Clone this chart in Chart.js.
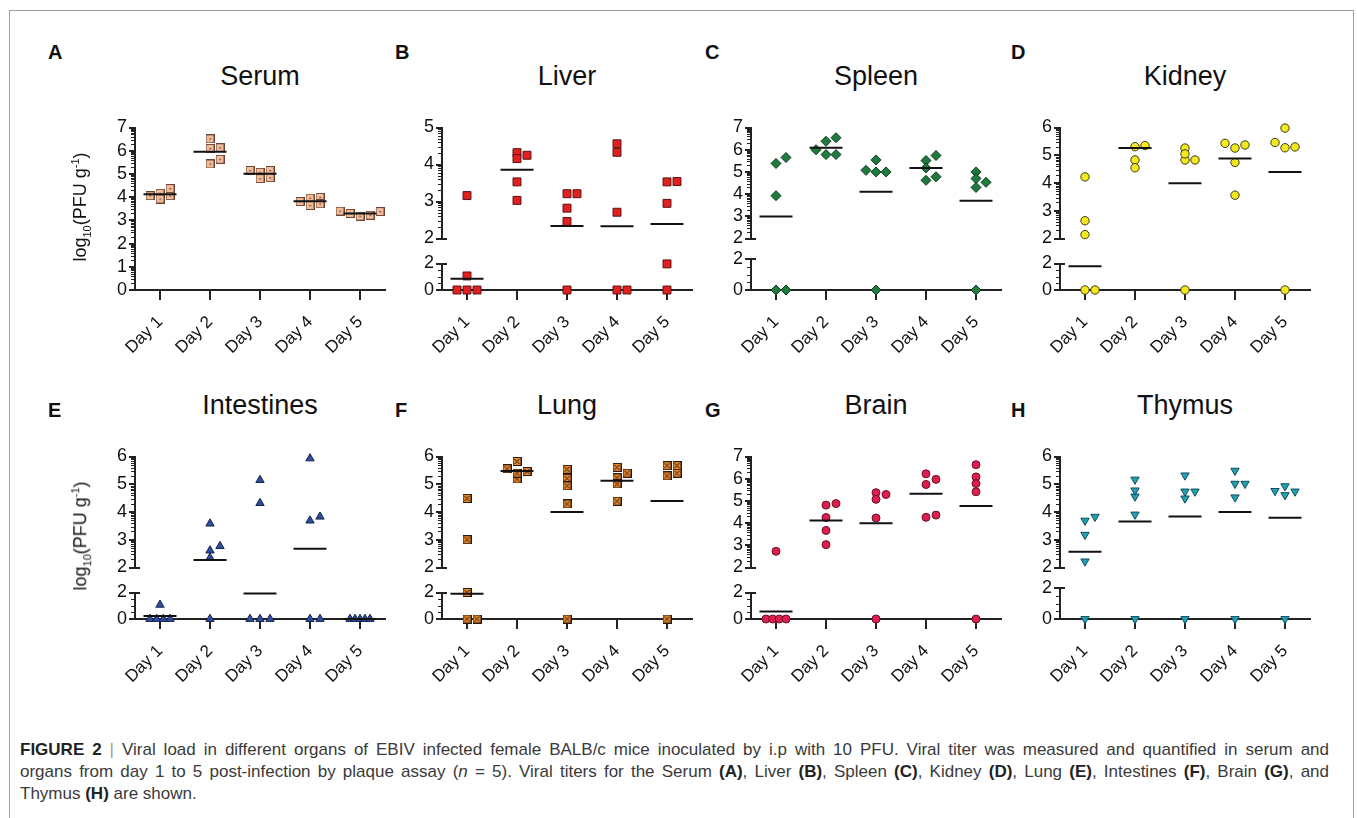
<!DOCTYPE html>
<html><head><meta charset="utf-8">
<script src="https://cdn.jsdelivr.net/npm/chart.js@4.4.0/dist/chart.umd.min.js"></script>
<style>
html,body{margin:0;padding:0;background:#fff;}
body{width:1357px;height:818px;position:relative;overflow:hidden;font-family:"Liberation Sans",Arial,Helvetica,sans-serif;}
.frame{position:absolute;left:9px;top:10px;width:1343px;height:830px;border:1px solid #a0a0a0;border-bottom:none;}
canvas{position:absolute;}
.title{position:absolute;font-size:27px;color:#111;transform:translate(-50%,-50%);white-space:nowrap;}
.letter{position:absolute;font-size:20px;font-weight:bold;color:#111;transform:translateY(-50%);}
.ylab{position:absolute;font-size:18px;color:#111;white-space:nowrap;transform:translate(-50%,-50%) rotate(-90deg);}
.ylab sub,.ylab sup{font-size:11px;}
.cap{position:absolute;left:20px;width:1309px;font-size:17px;color:#3a3a3a;white-space:nowrap;line-height:22px;}
.cap.j{text-align:justify;text-align-last:justify;}
.cap b{color:#222;}
.bar{color:#999;}
</style></head>
<body>
<div class="frame"></div>
<script>
// ---------------- data ----------------
const days = ['Day 1','Day 2','Day 3','Day 4','Day 5'];

const serum = [[4.06,4.37,4.17,4.06,3.92],[6.13,6.10,6.51,5.43,5.63],[5.07,5.15,5.15,4.80,4.84],[3.81,3.99,3.96,3.64,3.71],[3.40,3.38,3.18,3.22,3.30]];
const serumMean = [4.12,5.96,5.01,3.82,3.30];

const liver = [[0,0,0,1.06,3.16],[4.32,4.16,4.25,3.53,3.03],[3.21,3.21,2.82,2.46,0],[4.33,4.56,2.71,0,0],[3.54,3.53,2.95,1.97,0]];
const liverMean = [0.84,3.86,2.34,2.33,2.39];

const spleen = [[0,0,3.93,5.38,5.65],[6.54,6.38,6.00,5.78,5.78],[5.54,5.00,5.00,5.07,0],[5.51,5.74,5.18,4.62,4.78],[5.00,4.53,4.70,4.30,0]];
const spleenMean = [2.99,6.09,4.11,5.18,3.70];

const kidney = [[0,0,2.14,2.64,4.22],[5.35,5.31,4.83,4.55],[4.83,4.83,5.26,5.05,0],[5.43,5.26,5.37,4.74,3.56],[5.98,5.30,5.27,5.46,0]];
const kidneyMean = [1.80,5.26,3.99,4.88,4.40];

const intestines = [[0,0,0,0,1.07],[2.61,2.77,2.35,3.58,0],[5.15,4.32,0,0,0],[5.93,3.83,3.69,0,0],[0,0,0,0,0]];
const intestinesMean = [0.22,2.27,1.92,2.68,0];

const lung = [[4.49,3.00,2.00,0,0],[5.82,5.46,5.56,5.19,5.40],[5.54,5.21,4.94,4.29,0],[5.23,5.40,5.61,5.01,4.39],[5.40,5.67,5.30,5.67,0]];
const lungMean = [1.91,5.48,4.00,5.13,4.40];

const brain = [[2.73,0,0,0,0],[4.88,4.81,4.25,3.67,3.03],[5.37,5.29,5.07,4.23,0],[5.97,6.22,5.74,4.26,4.36],[6.63,6.08,5.78,5.41,0]];
const brainMean = [0.56,4.12,3.99,5.32,4.77];

const thymus = [[3.83,3.69,3.18,2.22,0],[5.17,4.56,4.78,3.91,0],[5.32,4.74,4.74,4.49,0],[5.49,5.02,5.02,4.53,0],[4.93,4.74,4.61,4.76,0]];
const thymusMean = [2.57,3.66,3.84,4.00,3.79];

const yTitle = 'log<sub>10</sub>(PFU g<sup>-1</sup>)';

// ---------------- layout / style ----------------
const FONT = '"Liberation Sans", Arial, Helvetica, sans-serif';
const colLeft = [135, 442, 751, 1060];
const rowTop = [123, 452];
const AREA_W = 250, UPPER = 124, GAP = 12, LOWER = 31, FULL = UPPER + GAP + LOWER;
const STEP = 0.2; // jitter step in day units (10 px)

function mkImg(draw){ const c=document.createElement('canvas'); c.width=9; c.height=9; draw(c.getContext('2d')); return c; }
const serumMark = mkImg(g=>{ g.fillStyle='#f2bc9b'; g.fillRect(0,0,9,9); g.strokeStyle='#6b4636'; g.lineWidth=1; g.strokeRect(0.5,0.5,8,8); g.fillStyle='#3a2418'; g.fillRect(4,4,1.3,1.3); });
const lungMark = mkImg(g=>{ g.fillStyle='#e8862a'; g.fillRect(0,0,9,9); g.strokeStyle='#2a1a10'; g.lineWidth=1; g.strokeRect(0.5,0.5,8,8); g.beginPath(); g.moveTo(2,2); g.lineTo(7,7); g.moveTo(7,2); g.lineTo(2,7); g.stroke(); });

const panels = [
  {letter:'A', title:'Serum', data:serum, mean:serumMean, yMax:7, broken:false, row:0, col:0, ylab:true,
   style:{pointStyle:serumMark, radius:4.5, size:7.5}},
  {letter:'B', title:'Liver', data:liver, mean:liverMean, yMax:5, broken:true, row:0, col:1,
   style:{pointStyle:'rect', radius:5.6, bg:'#e2201f', bd:'#5a1010', size:8}},
  {letter:'C', title:'Spleen', data:spleen, mean:spleenMean, yMax:7, broken:true, row:0, col:2,
   style:{pointStyle:'rectRot', radius:5, bg:'#1e7a3e', bd:'#0c3a1c', size:9}},
  {letter:'D', title:'Kidney', data:kidney, mean:kidneyMean, yMax:6, broken:true, row:0, col:3,
   style:{pointStyle:'circle', radius:4.2, bg:'#f5e81c', bd:'#3a3a20', size:8}},
  {letter:'E', title:'Intestines', data:intestines, mean:intestinesMean, yMax:6, broken:true, row:1, col:0, ylab:true,
   style:{pointStyle:'triangle', radius:4.8, bg:'#2e4fa0', bd:'#16244d', size:8}},
  {letter:'F', title:'Lung', data:lung, mean:lungMean, yMax:6, broken:true, row:1, col:1,
   style:{pointStyle:lungMark, radius:4.5, size:8}},
  {letter:'G', title:'Brain', data:brain, mean:brainMean, yMax:7, broken:true, row:1, col:2,
   style:{pointStyle:'circle', radius:4, bg:'#dc1f4e', bd:'#6a0f25', size:8}},
  {letter:'H', title:'Thymus', data:thymus, mean:thymusMean, yMax:6, broken:true, row:1, col:3,
   style:{pointStyle:'triangle', rotation:180, radius:4.8, bg:'#22a0b5', bd:'#0f4d58', size:8}},
];
const letterX = [48, 395, 705, 1011];
const letterY = [52, 410];
const titleY = [76, 405];

// pixel height above the x axis, used only for spreading overlapping dots
function pxOf(p, v){
  if (!p.broken) return v * FULL / p.yMax;
  if (v <= 2) return v * LOWER / 2;
  return LOWER + GAP + (v - 2) * UPPER / (p.yMax - 2);
}
function jitter(p, vals){
  const thr = p.style.size * 0.75;
  const slots = new Array(vals.length), placed = [];
  const counts = {};
  vals.forEach(v => counts[v] = (counts[v]||0) + 1);
  const seen = {};
  vals.forEach((v,i) => {
    if (counts[v] >= 4) {
      const k = seen[v] = (seen[v]===undefined ? 0 : seen[v]+1);
      slots[i] = -1 + 2*k/(counts[v]-1);
      placed.push({s:slots[i], py:pxOf(p,v)});
    }
  });
  const order = vals.map((v,i)=>i).filter(i=>slots[i]===undefined).sort((a,b)=>vals[a]-vals[b]);
  const cands = [0,1,-1,2,-2,3,-3];
  order.forEach(i => {
    const py = pxOf(p, vals[i]);
    for (const c of cands) {
      if (!placed.some(q => Math.abs(q.s - c) < 1 && Math.abs(q.py - py) < thr)) { slots[i] = c; placed.push({s:c, py}); break; }
    }
  });
  return slots;
}

const minorTicks = {
  id:'minorTicks',
  afterDraw(chart, args, opts){
    const y = chart.scales.y, ctx = chart.ctx, x0 = chart.chartArea.left;
    ctx.save(); ctx.strokeStyle = '#222';
    ctx.lineWidth = 1;
    (opts.values||[]).forEach(v => {
      const py = Math.round(y.getPixelForValue(v)) + 0.5;
      ctx.beginPath(); ctx.moveTo(x0-4, py); ctx.lineTo(x0, py); ctx.stroke();
    });
    ctx.lineWidth = 2;
    (opts.caps||[]).forEach(v => {
      const py = Math.round(y.getPixelForValue(v));
      ctx.beginPath(); ctx.moveTo(x0, py); ctx.lineTo(x0+5, py); ctx.stroke();
    });
    ctx.restore();
  }
};
Chart.register(minorTicks);

function segChart(p, seg){
  const left = colLeft[p.col], top0 = rowTop[p.row];
  let top, h, min, max, showX, yTicks, minors = [], caps = [];
  if (seg === 'full') { top = top0; h = FULL; min = 0; max = p.yMax; showX = true; }
  else if (seg === 'upper') { top = top0; h = UPPER; min = 2; max = p.yMax; showX = false; caps = [2]; }
  else { top = top0 + UPPER + GAP; h = LOWER; min = 0; max = 2; showX = true; caps = [2]; }
  yTicks = [];
  if (seg === 'lower') { yTicks = [0, 2]; minors = [0.5, 1, 1.5]; }
  else {
    for (let v = min; v <= max; v++) yTicks.push(v);
    for (let n = min; n < max; n++) for (let k = 2; k <= 9; k++) minors.push(n + Math.log10(k));
  }
  const YW = 60, PT = 14, PR = 20, PB = 10, XH = 85;
  const cw = YW + AREA_W + PR, ch = PT + h + (showX ? XH : PB);
  const cv = document.createElement('canvas');
  cv.width = cw; cv.height = ch;
  cv.style.left = (left - YW) + 'px'; cv.style.top = (top - PT) + 'px';
  cv.style.width = cw + 'px'; cv.style.height = ch + 'px';
  document.body.appendChild(cv);

  const inSeg = v => seg === 'full' ? true : (seg === 'upper' ? v > 2 : v <= 2);
  const pts = [];
  p.data.forEach((vals, d) => {
    const sl = jitter(p, vals);
    vals.forEach((v, i) => { if (inSeg(v)) pts.push({x: d + 1 + sl[i]*STEP, y: v}); });
  });
  const means = p.mean.map((m, d) => ({x: d + 1, y: m})).filter(q => inSeg(q.y));
  const st = p.style;

  new Chart(cv, {
    type: 'scatter',
    data: { datasets: [
      { label:'Mean', data: means, pointStyle:'line', pointRadius:16.5, pointBorderWidth:2, pointBorderColor:'#111', clip:false, showLine:false },
      { label: p.title, data: pts, pointStyle: st.pointStyle, pointRadius: st.radius, pointRotation: st.rotation || 0,
        pointBackgroundColor: st.bg || '#000', pointBorderColor: st.bd || '#000', pointBorderWidth: 1, clip:false, showLine:false }
    ]},
    options: {
      responsive:false, animation:false, devicePixelRatio:1, events:[],
      layout: { padding: { left:0, top:PT, right:PR, bottom: showX ? 0 : PB } },
      plugins: { legend:{display:false}, tooltip:{enabled:false}, title:{display:false},
                 minorTicks: { values: minors, caps: caps } },
      scales: {
        x: { type:'linear', min:0.5, max:5.5, display: showX,
             afterBuildTicks: s => { s.ticks = [1,2,3,4,5].map(v => ({value:v})); },
             afterFit: s => { if (showX) s.height = XH; },
             ticks: { callback: v => days[v-1], autoSkip:false, maxRotation:45, minRotation:45,
                      font:{size:17, family:FONT}, color:'#111', padding:12 },
             grid: { drawOnChartArea:false, drawTicks:true, tickLength:10, color:'#222', lineWidth:2 },
             border: { display:true, color:'#222', width:2 } },
        y: { type:'linear', min:min, max:max,
             afterBuildTicks: s => { s.ticks = yTicks.map(v => ({value:v})); },
             afterFit: s => { s.width = YW; },
             ticks: { font:{size:18, family:FONT}, color:'#111', padding:2, autoSkip:false },
             grid: { drawOnChartArea:false, drawTicks:true, tickLength:6, color:'#222', lineWidth:2 },
             border: { display:true, color:'#222', width:2 } }
      }
    }
  });
}

function addDiv(cls, html, x, y){
  const d = document.createElement('div'); d.className = cls; d.innerHTML = html;
  d.style.left = x + 'px'; d.style.top = y + 'px'; document.body.appendChild(d); return d;
}

panels.forEach(p => {
  if (p.broken) { segChart(p, 'upper'); segChart(p, 'lower'); }
  else segChart(p, 'full');
  addDiv('title', p.title, colLeft[p.col] + AREA_W/2, titleY[p.row]);
  addDiv('letter', p.letter, letterX[p.col], letterY[p.row]);
  if (p.ylab) addDiv('ylab', yTitle, 81, rowTop[p.row] + FULL/2);
});

// caption
const cap1 = '<b>FIGURE 2</b> <span class="bar">|</span> Viral load in different organs of EBIV infected female BALB/c mice inoculated by i.p with 10 PFU. Viral titer was measured and quantified in serum and';
const cap2 = 'organs from day 1 to 5 post-infection by plaque assay (<i>n</i> = 5). Viral titers for the Serum <b>(A)</b>, Liver <b>(B)</b>, Spleen <b>(C)</b>, Kidney <b>(D)</b>, Lung <b>(E)</b>, Intestines <b>(F)</b>, Brain <b>(G)</b>, and';
const cap3 = 'Thymus <b>(H)</b> are shown.';
addDiv('cap j', cap1, 20, 739);
addDiv('cap j', cap2, 20, 761);
addDiv('cap', cap3, 20, 783);
</script>
</body></html>
